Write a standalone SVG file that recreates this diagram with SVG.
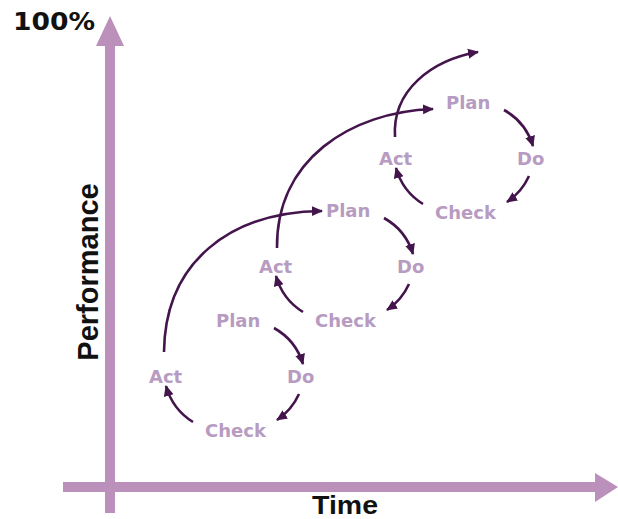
<svg xmlns="http://www.w3.org/2000/svg" width="618" height="519" viewBox="0 0 618 519">
  <defs>
    <marker id="head" markerWidth="12" markerHeight="12" refX="10" refY="5.5" orient="auto" markerUnits="userSpaceOnUse">
      <path d="M0,0.5 L11,5.5 L0,10.5 Z" fill="#44154c"/>
    </marker>
    <style>
      .axis { stroke: #bb90bb; stroke-width: 10; fill: none; }
      .axhead { fill: #bb90bb; }
      .title { font-family: "Liberation Sans", Arial, sans-serif; font-weight: bold; fill: #111; }
      .lbl { font-family: "DejaVu Sans", Verdana, sans-serif; font-weight: bold; font-size: 18px; fill: #b79bc1; }
      .flow { stroke: #44154c; stroke-width: 2.6; fill: none; marker-end: url(#head); }
    </style>
  </defs>
  <rect width="618" height="519" fill="#fff"/>

  <!-- axes -->
  <g id="axes">
    <line class="axis" x1="110" y1="513" x2="110" y2="44"/>
    <polygon class="axhead" points="110,16 96,46 124,46"/>
    <line class="axis" x1="63" y1="487" x2="597" y2="487"/>
    <polygon class="axhead" points="618,487 595,473 595,502"/>
  </g>
  <text class="title" x="13" y="30" font-size="25" textLength="82" lengthAdjust="spacingAndGlyphs" style="font-family:'DejaVu Sans',Verdana,sans-serif">100%</text>
  <text class="title" x="345" y="514" font-size="25" textLength="66" lengthAdjust="spacingAndGlyphs" text-anchor="middle">Time</text>
  <text class="title" x="98" y="272" font-size="29" text-anchor="middle" transform="rotate(-90 98 272)">Performance</text>

  <!-- cycle 1 -->
  <g id="cycle1">
    <text class="lbl" x="216" y="327">Plan</text>
    <text class="lbl" x="287" y="383">Do</text>
    <text class="lbl" x="205" y="437">Check</text>
    <text class="lbl" x="149" y="383">Act</text>
  </g>
  <!-- cycle 2 -->
  <g id="cycle2" transform="translate(110,-110)">
    <text class="lbl" x="216" y="327">Plan</text>
    <text class="lbl" x="287" y="383">Do</text>
    <text class="lbl" x="205" y="437">Check</text>
    <text class="lbl" x="149" y="383">Act</text>
  </g>
  <!-- cycle 3 -->
  <g id="cycle3" transform="translate(230,-218)">
    <text class="lbl" x="216" y="327">Plan</text>
    <text class="lbl" x="287" y="383">Do</text>
    <text class="lbl" x="205" y="437">Check</text>
    <text class="lbl" x="149" y="383">Act</text>
  </g>

  <!-- connectors -->
  <g id="connectors">
    <g id="loop1">
      <path class="flow" d="M274,328 A62,62 0 0 1 303,364"/>
      <path class="flow" d="M299,394 A62,62 0 0 1 277,420"/>
      <path class="flow" d="M193,422 A62,62 0 0 1 166,386"/>
    </g>
    <g id="loop2" transform="translate(110,-110)">
      <path class="flow" d="M274,328 A62,62 0 0 1 303,364"/>
      <path class="flow" d="M299,394 A62,62 0 0 1 277,420"/>
      <path class="flow" d="M193,422 A62,62 0 0 1 166,386"/>
    </g>
    <g id="loop3" transform="translate(230,-218)">
      <path class="flow" d="M274,328 A62,62 0 0 1 303,364"/>
      <path class="flow" d="M299,394 A62,62 0 0 1 277,420"/>
      <path class="flow" d="M193,422 A62,62 0 0 1 166,386"/>
    </g>
    <path class="flow" d="M164,352 C165,262 230,212 322,211"/>
    <path class="flow" d="M277,248 C276,160 350,112 433,109"/>
    <path class="flow" d="M395,137 C392,90 432,60 478,52"/>
  </g>
</svg>
